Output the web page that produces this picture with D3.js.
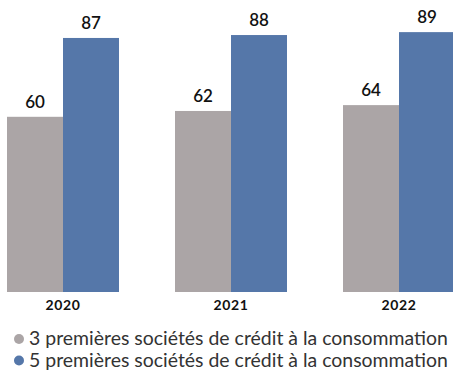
<!DOCTYPE html>
<html>
<head>
<meta charset="utf-8">
<script src="https://cdn.jsdelivr.net/npm/d3@7"></script>
<style>
  html, body { margin: 0; padding: 0; background: #fff; }
  svg { display: block; }
</style>
</head>
<body>
<svg id="chart" width="453" height="370"></svg>
<script>
// Part des premières sociétés de crédit à la consommation (en %)
const years = ["2020", "2021", "2022"];
const top3 = [60, 62, 64];
const top5 = [87, 88, 89];
const seriesNames = [
  "3 premières sociétés de crédit à la consommation",
  "5 premières sociétés de crédit à la consommation"
];
const seriesColors = ["#aba5a6", "#5577a9"];

const svg = d3.select("#chart");
const font = "Lato, 'Noto Sans', sans-serif";

const x = d3.scaleBand().domain(years).range([7, 455]).paddingInner(1 / 3).paddingOuter(0);
const xs = d3.scaleBand().domain([0, 1]).range([0, x.bandwidth()]);
const y = d3.scaleLinear().domain([0, 100]).range([292, 0]);

const rows = years.map((yr, i) => ({ year: yr, vals: [top3[i], top5[i]] }));

const g = svg.selectAll("g.year").data(rows).join("g")
  .attr("class", "year")
  .attr("transform", d => `translate(${x(d.year)},0)`);

g.selectAll("rect").data(d => d.vals.map((v, k) => ({ v, k }))).join("rect")
  .attr("x", d => xs(d.k))
  .attr("width", xs.bandwidth())
  .attr("y", d => y(d.v))
  .attr("height", d => y(0) - y(d.v))
  .attr("fill", d => seriesColors[d.k]);

g.selectAll("text.val").data(d => d.vals.map((v, k) => ({ v, k }))).join("text")
  .attr("class", "val")
  .attr("x", d => xs(d.k) + xs.bandwidth() / 2)
  .attr("y", d => y(d.v) - 9)
  .attr("text-anchor", "middle")
  .attr("font-family", font)
  .attr("font-size", 17)
  .attr("font-weight", 600)
  .attr("fill", "#111")
  .text(d => d.v);

// Year labels under each group
const xAxis = d3.axisBottom(x).tickSize(0).tickPadding(0);
const ax = svg.append("g").attr("transform", `translate(0,${y(0)})`).call(xAxis);
ax.select(".domain").remove();
ax.selectAll("text")
  .attr("dy", 0)
  .attr("y", 18)
  .attr("font-family", font)
  .attr("font-size", 14)
  .attr("font-weight", "bold")
  .attr("letter-spacing", 0.6)
  .attr("fill", "#111");

// Legend
const leg = svg.selectAll("g.leg").data(seriesNames).join("g")
  .attr("class", "leg")
  .attr("transform", (d, i) => `translate(0,${339 + i * 21.5})`);
leg.append("circle").attr("cx", 19).attr("cy", 0).attr("r", 5)
  .attr("fill", (d, i) => seriesColors[i]);
leg.append("text")
  .attr("x", 29).attr("y", 6)
  .attr("font-family", font)
  .attr("font-size", 16)
  .attr("fill", "#333")
  .text(d => d)
  .each(function () {
    // fit the legend line to the available width
    const w = this.getComputedTextLength();
    const target = 419;
    const fs = 16 * target / w;
    d3.select(this).attr("font-size", fs.toFixed(2));
  });
</script>
</body>
</html>
